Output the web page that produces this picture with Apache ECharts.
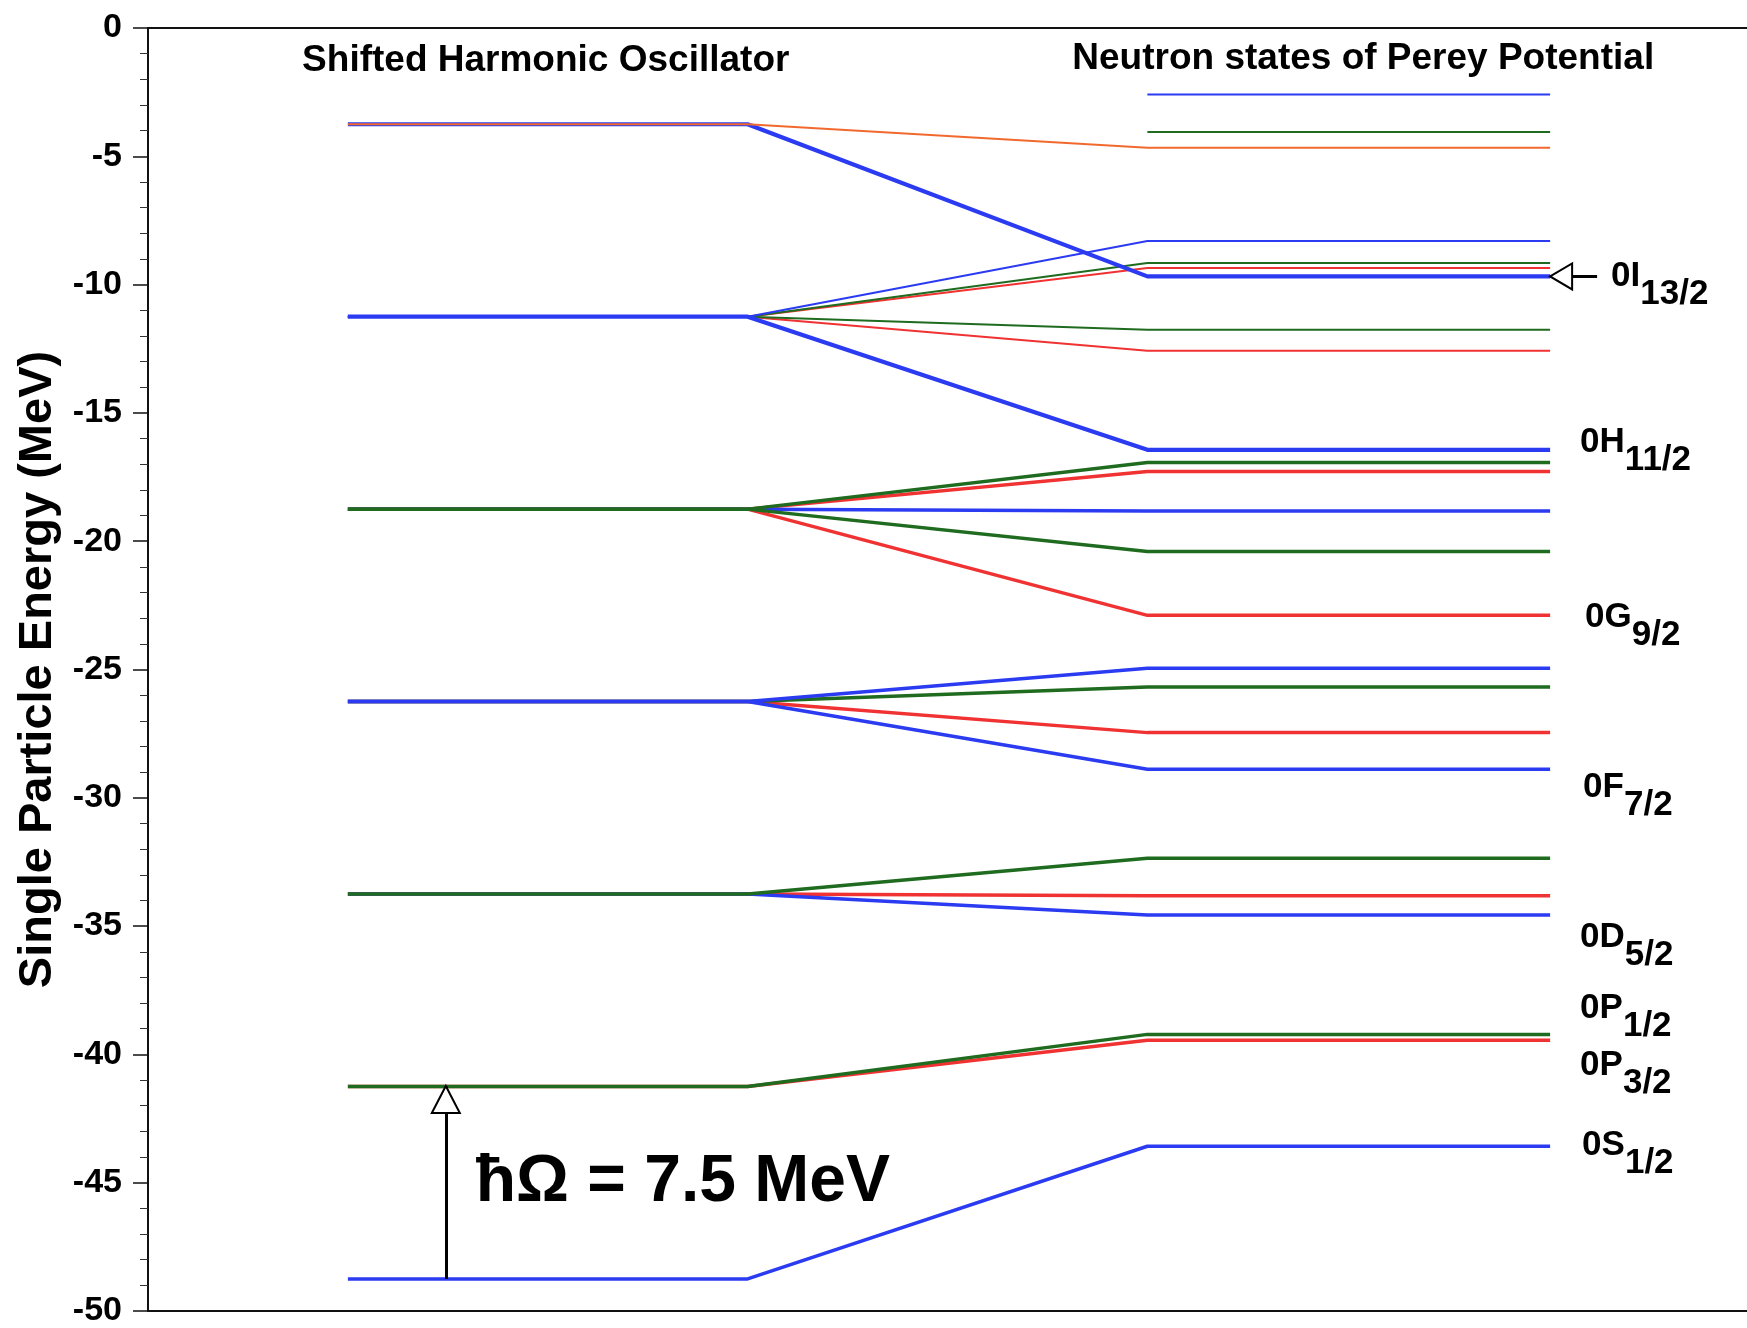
<!DOCTYPE html>
<html>
<head>
<meta charset="utf-8">
<title>Shifted harmonic oscillator vs. Perey potential neutron states</title>
<script src="https://cdn.jsdelivr.net/npm/echarts@6/dist/echarts.min.js"></script>
<style>
  html, body { margin: 0; padding: 0; background: #fff; }
  #chart { width: 1747px; height: 1328px; }
</style>
</head>
<body>
<div id="chart"></div>
<script>
// Shifted harmonic-oscillator shell energies (MeV), N = 0 ... 6
const shellEnergy = [-48.75, -41.25, -33.75, -26.25, -18.75, -11.25, -3.75];
const hbarOmega = 7.5;

// Perey-potential neutron levels, grouped by colour family.
// *Shell = index of the parent oscillator shell (null: no connecting line), *Level = energy (MeV)
const blueShell   = [0, 2, 3, 3, 4, 5, 5, 6, null];
const blueLevel   = [-43.58, -34.57, -24.95, -28.89, -18.82, -16.44, -8.30, -9.68, -2.59];
const redShell    = [1, 2, 3, 4, 4, 5, 5];
const redLevel    = [-39.45, -33.82, -27.46, -17.28, -22.89, -9.35, -12.58];
const greenShell  = [1, 2, 3, 4, 4, 5, 5, null];
const greenLevel  = [-39.22, -32.36, -25.68, -16.93, -20.40, -9.16, -11.76, -4.05];
const orangeShell = [6];
const orangeLevel = [-4.67];

// Named states (orbital + j)
const stateName  = ['0I', '0H', '0G', '0F', '0D', '0P', '0P', '0S'];
const stateJ     = ['13/2', '11/2', '9/2', '7/2', '5/2', '1/2', '3/2', '1/2'];
const stateLevel = [-9.68, -16.44, -22.89, -28.89, -34.57, -39.22, -39.45, -43.58];

const columnTitles = ['Shifted Harmonic Oscillator', 'Neutron states of Perey Potential'];

// ---- styling / layout ----
const FONT = '"Liberation Sans", Arial, Helvetica, sans-serif';
const INK = '#000';
const COLORS = { blue: '#2b3bf2', red: '#f03232', green: '#1f6b1f', orange: '#f2692e' };
const X = { hoStart: 2, hoEnd: 6, wsStart: 10, wsEnd: 14.03, max: 16 };
const THICK = 3.5, HEAVY = 4.2, THIN = 2;
// colour drawn on top of each oscillator level
const topColour = ['blue', 'green', 'green', 'blue', 'green', 'blue', 'orange'];
// pixel offsets of each state tag from the end of its level
const tagOffset = [[61, 9], [30, 1], [35, 11], [33, 27], [30, 31], [30, -17], [30, 34], [32, 8]];

const families = [
  ['red', redShell, redLevel],
  ['green', greenShell, greenLevel],
  ['blue', blueShell, blueLevel],
  ['orange', orangeShell, orangeLevel]
];

const levels = [];
families.forEach(([colour, shells, energies]) => {
  energies.forEach((e, i) => {
    const s = shells[i];
    const named = stateLevel.indexOf(e) >= 0;
    let width = THIN;
    if (s !== null && s >= 5 && named) width = HEAVY;      // intruder states from the upper shells
    else if (s !== null && s <= 4) width = THICK;
    levels.push({ colour, shell: s, energy: e, width });
  });
});
// draw order: per shell, the visible colour last
levels.sort((a, b) => {
  const sa = a.shell === null ? -1 : a.shell, sb = b.shell === null ? -1 : b.shell;
  if (sa !== sb) return sa - sb;
  const ta = sa >= 0 && topColour[sa] === a.colour ? 1 : 0;
  const tb = sb >= 0 && topColour[sb] === b.colour ? 1 : 0;
  if (ta !== tb) return ta - tb;
  return a.width - b.width;
});

const levelSeries = levels.map((lv, k) => {
  const pts = [];
  if (lv.shell !== null) {
    const e0 = shellEnergy[lv.shell];
    pts.push([X.hoStart, e0], [X.hoEnd, e0]);
  }
  pts.push([X.wsStart, lv.energy], [X.wsEnd, lv.energy]);
  return {
    type: 'line',
    data: pts,
    symbol: 'none',
    silent: true,
    z: 2 + k * 0.001,
    lineStyle: { color: COLORS[lv.colour], width: lv.width, join: 'round', cap: 'butt' },
    emphasis: { disabled: true }
  };
});

const tagStyle = (pad) => ({
  fontFamily: FONT, fontWeight: 'bold', fontSize: 35, lineHeight: 35,
  color: INK, opacity: 1, padding: pad
});
const tagLabel = (i) => ({
  show: true,
  position: 'right',
  distance: 0,
  offset: tagOffset[i],
  opacity: 1,
  formatter: '{m|' + stateName[i] + '}{s|' + stateJ[i] + '}',
  rich: { m: tagStyle([0, 0, 18, 0]), s: tagStyle([18, 0, 0, 0]) }
});

const noteText = (fontSize) => ({
  show: true, position: 'inside', color: INK, opacity: 1,
  fontFamily: FONT, fontWeight: 'bold', fontSize
});

const notes = {
  type: 'scatter',
  symbolSize: 0,
  silent: true,
  z: 5,
  itemStyle: { color: 'rgba(0,0,0,0)', opacity: 1 },
  emphasis: { disabled: true },
  data: [
    { value: [(X.hoStart + X.hoEnd) / 2 - 0.02, -1.29], label: Object.assign(noteText(37), { formatter: columnTitles[0] }) },
    { value: [12.16, -1.21], label: Object.assign(noteText(37), { formatter: columnTitles[1] }) },
    { value: [3.28, -45.0], label: Object.assign(noteText(66), { align: 'left', formatter: '\u0127\u03A9 = ' + hbarOmega + ' MeV' }) }
  ].concat(stateLevel.map((e, i) => ({ value: [X.wsEnd, e], label: tagLabel(i) }))),
  markLine: {
    silent: true,
    animation: false,
    symbol: ['none', 'emptyTriangle'],
    label: { show: false },
    emphasis: { disabled: true },
    lineStyle: { color: INK, width: 3, type: 'solid', opacity: 1 },
    data: [
      [{ coord: [2.98, shellEnergy[0]] },
       { coord: [2.98, shellEnergy[0] + hbarOmega], symbolSize: [28, 27], symbolOffset: [0, 13] }],
      [{ coord: [14.5, stateLevel[0]] },
       { coord: [X.wsEnd, stateLevel[0]], symbolSize: [26, 22], symbolOffset: [0, 11] }]
    ]
  }
};

const plainX = (position) => ({
  type: 'value', min: 0, max: X.max, position,
  axisLine: { show: true, onZero: false, lineStyle: { color: '#111', width: 2 } },
  axisTick: { show: false }, axisLabel: { show: false }, splitLine: { show: false }
});

const chart = echarts.init(document.getElementById('chart'), null, { renderer: 'canvas' });
chart.setOption({
  animation: false,
  backgroundColor: '#fff',
  grid: { left: 148, right: 0, top: 28, bottom: 17, containLabel: false },
  xAxis: [plainX('bottom'), plainX('top')],
  yAxis: {
    type: 'value', min: -50, max: 0, interval: 5,
    axisLine: { show: true, onZero: false, lineStyle: { color: '#111', width: 2 } },
    axisTick: { show: true, inside: false, length: 15, lineStyle: { color: '#111', width: 1.5 } },
    minorTick: { show: true, splitNumber: 5, length: 8, lineStyle: { color: '#333', width: 1 } },
    splitLine: { show: false },
    axisLabel: { fontFamily: FONT, fontWeight: 'bold', fontSize: 34, color: INK, margin: 26 },
    name: 'Single Particle Energy (MeV)',
    nameLocation: 'middle',
    nameGap: 80,
    nameTextStyle: { fontFamily: FONT, fontWeight: 'bold', fontSize: 47, color: INK }
  },
  series: levelSeries.concat([notes])
});
</script>
</body>
</html>
